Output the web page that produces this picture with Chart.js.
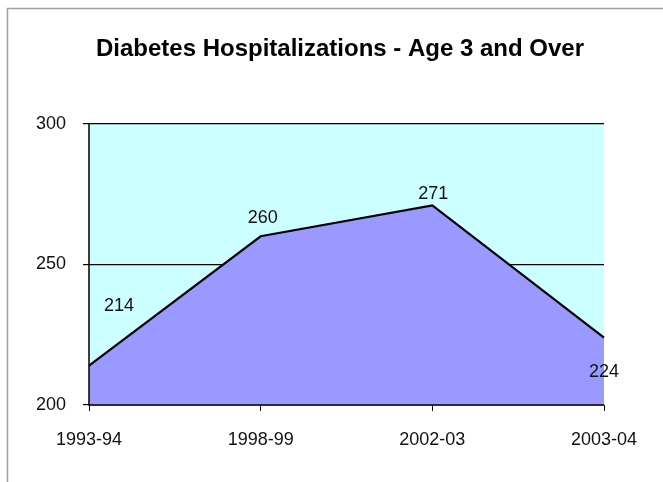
<!DOCTYPE html>
<html>
<head>
<meta charset="utf-8">
<script src="https://cdn.jsdelivr.net/npm/chart.js@4/dist/chart.umd.min.js"></script>
<style>
html,body{margin:0;padding:0;background:#fff;}
#wrap{width:663px;height:482px;position:relative;}
</style>
</head>
<body>
<div id="wrap"><canvas id="c" width="663" height="482"></canvas></div>
<script>
const categories = ['1993-94', '1998-99', '2002-03', '2003-04'];
const hospitalizations = [214, 260, 271, 224];
const yTicks = [200, 250, 300];
const titleText = 'Diabetes Hospitalizations - Age 3 and Over';

const FONT = '"Liberation Sans", Arial, sans-serif';

const framePlugin = {
  id: 'frame',
  afterLayout(chart) {
    // centre the title over the region the original used
    if (chart.titleBlock) {
      chart.titleBlock.left = 76;
      chart.titleBlock.right = 604;
    }
  },
  beforeDraw(chart) {
    const ctx = chart.ctx, a = chart.chartArea;
    ctx.save();
    ctx.fillStyle = '#CCFFFF';
    ctx.fillRect(a.left, a.top, a.right - a.left, a.bottom - a.top);
    ctx.strokeStyle = '#a0a0a0';
    ctx.lineWidth = 1.5;
    ctx.beginPath();
    ctx.moveTo(7.5, 482);
    ctx.lineTo(7.5, 8.5);
    ctx.lineTo(663, 8.5);
    ctx.stroke();
    ctx.restore();
  },
  afterDatasetsDraw(chart) {
    const ctx = chart.ctx, a = chart.chartArea;
    ctx.save();
    ctx.strokeStyle = '#000';
    ctx.lineWidth = 1.5;
    ctx.beginPath();
    ctx.moveTo(a.left, a.top);
    ctx.lineTo(a.left, a.bottom);
    ctx.lineTo(a.right, a.bottom);
    ctx.stroke();
    // data labels
    const meta = chart.getDatasetMeta(0);
    const offs = chart.options.plugins.frame.labelOffsets;
    ctx.fillStyle = '#111';
    ctx.font = '18px ' + FONT;
    ctx.textAlign = 'center';
    ctx.textBaseline = 'middle';
    meta.data.forEach((pt, i) => {
      const o = offs[i];
      ctx.fillText(String(chart.data.datasets[0].data[i]), pt.x + o[0], pt.y + o[1]);
    });
    ctx.restore();
  }
};

new Chart(document.getElementById('c'), {
  type: 'line',
  data: {
    labels: categories,
    datasets: [{
      data: hospitalizations,
      borderColor: '#000',
      borderWidth: 2.2,
      backgroundColor: '#9999FF',
      fill: 'start',
      pointRadius: 0,
      tension: 0
    }]
  },
  options: {
    responsive: false,
    animation: false,
    layout: { padding: { left: 0, right: 59, top: 0, bottom: 0 } },
    plugins: {
      legend: { display: false },
      tooltip: { enabled: false },
      title: {
        display: true,
        text: titleText,
        color: '#000',
        font: { family: FONT, size: 24, weight: 'bold' },
        padding: { top: 35, bottom: 60 }
      },
      frame: { labelOffsets: [[30, -60], [2, -18], [1, -11], [0, 35]] }
    },
    scales: {
      x: {
        offset: false,
        grid: { drawOnChartArea: false, drawTicks: true, tickLength: 6, color: '#000', tickColor: '#000' },
        border: { display: false },
        ticks: { color: '#111', font: { family: FONT, size: 18 }, padding: 18, maxRotation: 0, autoSkip: false },
        afterFit(s) { s.height = 77; }
      },
      y: {
        min: 200, max: 300,
        afterBuildTicks(s) { s.ticks = yTicks.map(v => ({ value: v })); },
        grid: { color: '#000', lineWidth: 1.2, tickLength: 6, tickColor: '#000', drawTicks: true },
        border: { display: false },
        ticks: { color: '#111', font: { family: FONT, size: 18 }, padding: 17 },
        afterFit(s) { s.width = 89; }
      }
    }
  },
  plugins: [framePlugin]
});
</script>
</body>
</html>
